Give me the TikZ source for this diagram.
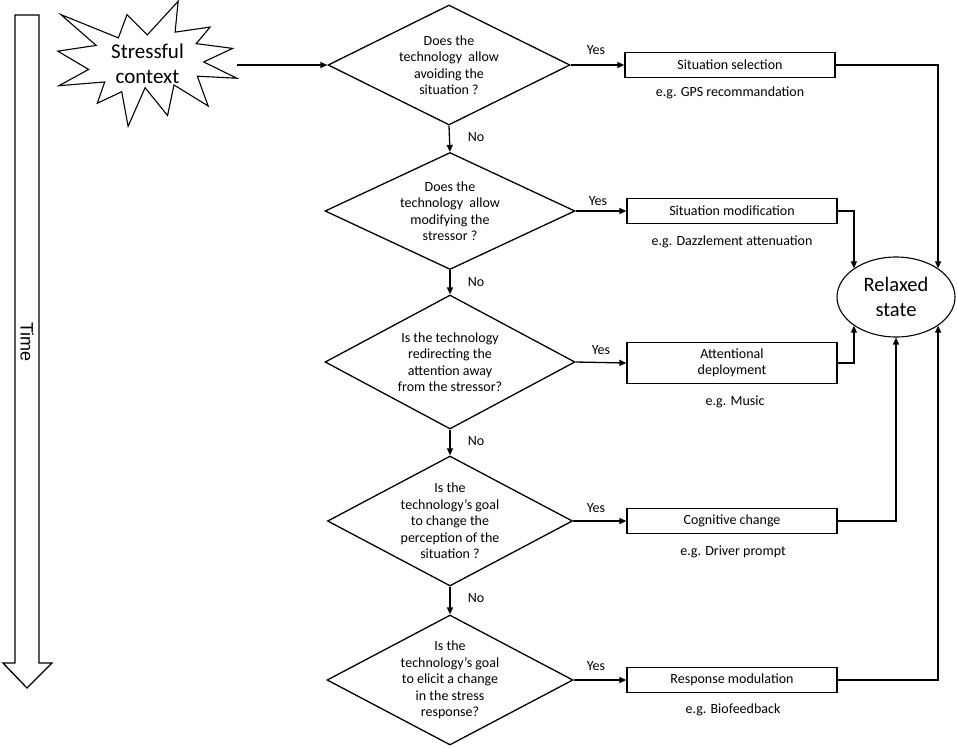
\documentclass[tikz,border=0pt]{standalone}
\usepackage{fontspec}
\setmainfont{Carlito}
\newfontfamily\arialf{Liberation Sans}
\usetikzlibrary{shapes.geometric,arrows.meta}
\begin{document}
\begin{tikzpicture}[x=1pt,y=-1pt,
  lw/.style={line width=1.3pt},
  txt/.style={font=\fontsize{14}{16.5}\selectfont},
  dec/.style={diamond, draw, lw, inner sep=0pt},
  dtext/.style={txt, align=center, inner sep=0pt},
  act/.style={rectangle, draw, lw, minimum width=210pt, minimum height=25pt, inner sep=0pt, align=center, txt},
  note/.style={txt, inner sep=0pt},
  lab/.style={txt, inner sep=0pt},
  arr/.style={lw, -{Triangle[length=7pt,width=6pt]}},
]
\useasboundingbox (0,0) rectangle (957,747);

% time arrow
\draw[lw] (15,15) -- (39,15) -- (39,663) -- (52,663) -- (27,688) -- (3,663) -- (15,663) -- cycle;
\node[rotate=-90, font=\arialf\fontsize{18}{20}\selectfont, inner sep=0pt] (time) at (27,342) {Time};

% stressful context
\node[minimum width=179pt, minimum height=125pt, inner sep=0pt, align=center,
      font=\fontsize{21}{25}\selectfont] (star) at (147.5,64) {Stressful\\context};
\begin{scope}[shift={(star.north west)}, x=0.8287pt, y=-0.5787pt]
\draw[line width=1.1pt, line join=miter] (108,58) -- (145.22,0) -- (141.55,53.25) -- (183.80,44.57) -- (167.02,73.15) -- (210.97,81.37) -- (176.07,104.75) -- (216,132.90) -- (168.37,129.42) -- (181.45,180.95) -- (140.20,144.57) -- (132.47,197.37) -- (105.32,149.35) -- (84.85,216) -- (77.15,156.27) -- (47.62,176.17) -- (56.67,139.37) -- (1.35,145.87) -- (37.22,117.75) -- (0,86.15) -- (46.27,76.17) -- (3.70,22.95) -- (73.12,63.20) -- (83.52,22.95) -- cycle;
\end{scope}

% decisions
\node[dec, minimum width=242pt, minimum height=120pt] (d1) at (449,65) {};
\node[dtext] at (d1.center) {Does the\\technology\ \ allow\\avoiding the\\situation ?};
\node[dec, minimum width=250pt, minimum height=117pt] (d2) at (450,211) {};
\node[dtext] at (d2.center) {Does the\\technology\ \ allow\\modifying the\\stressor ?};
\node[dec, minimum width=250pt, minimum height=134pt] (d3) at (450,362) {};
\node[dtext] at (d3.center) {Is the technology\\redirecting the\\attention away\\from the stressor?};
\node[dec, minimum width=245pt, minimum height=130pt] (d4) at (450,521) {};
\node[dtext] at (d4.center) {Is the\\technology’s goal\\to change the\\perception of the\\situation ?};
\node[dec, minimum width=246pt, minimum height=130pt] (d5) at (450,680) {};
\node[dtext] at (d5.center) {Is the\\technology’s goal\\to elicit a change\\in the stress\\response?};

% actions
\node[act] (b1) at (730,65) {Situation selection};
\node[act] (b2) at (732,211) {Situation modification};
\node[act, minimum height=41pt] (b3) at (732,363) {Attentional\\deployment};
\node[act] (b4) at (732,521) {Cognitive change};
\node[act] (b5) at (732,680) {Response modulation};

\node[note] at (730,93) {e.g. GPS recommandation};
\node[note] at (732,242) {e.g. Dazzlement attenuation};
\node[note] at (735,402) {e.g. Music};
\node[note] at (733,552) {e.g. Driver prompt};
\node[note] at (733,710) {e.g. Biofeedback};

% relaxed state
\node[ellipse, draw, line width=1.1pt, minimum width=118pt, minimum height=80pt, inner sep=0pt,
      align=center, font=\fontsize{20.5}{25}\selectfont] (relax) at (896,297) {Relaxed\\state};

% connectors
\draw[arr] (star.east |- d1.west) -- (d1.west);
\draw[arr] (d1.east) -- (b1.west);
\draw[arr] (d2.east) -- (b2.west);
\draw[arr] (d3.east) -- (b3.west);
\draw[arr] (d4.east) -- (b4.west);
\draw[arr] (d5.east) -- (b5.west);
\draw[arr] (d1.south) -- (d2.north);
\draw[arr] (d2.south) -- (d3.north);
\draw[arr] (d3.south) -- (d4.north);
\draw[arr] (d4.south) -- (d5.north);

\draw[arr] (b1.east) -| (relax.north east);
\draw[arr] (b2.east) -| (relax.north west);
\draw[arr] (b3.east) -| (relax.south west);
\draw[arr] (b4.east) -| (relax.south);
\draw[arr] (b5.east) -| (relax.south east);

% labels
\node[lab] at (596,50) {Yes};
\node[lab] at (598,201) {Yes};
\node[lab] at (601,350) {Yes};
\node[lab] at (596,508) {Yes};
\node[lab] at (596,666) {Yes};
\node[lab] at (476,137) {No};
\node[lab] at (476,282) {No};
\node[lab] at (476,441) {No};
\node[lab] at (476,598) {No};
\end{tikzpicture}
\end{document}
